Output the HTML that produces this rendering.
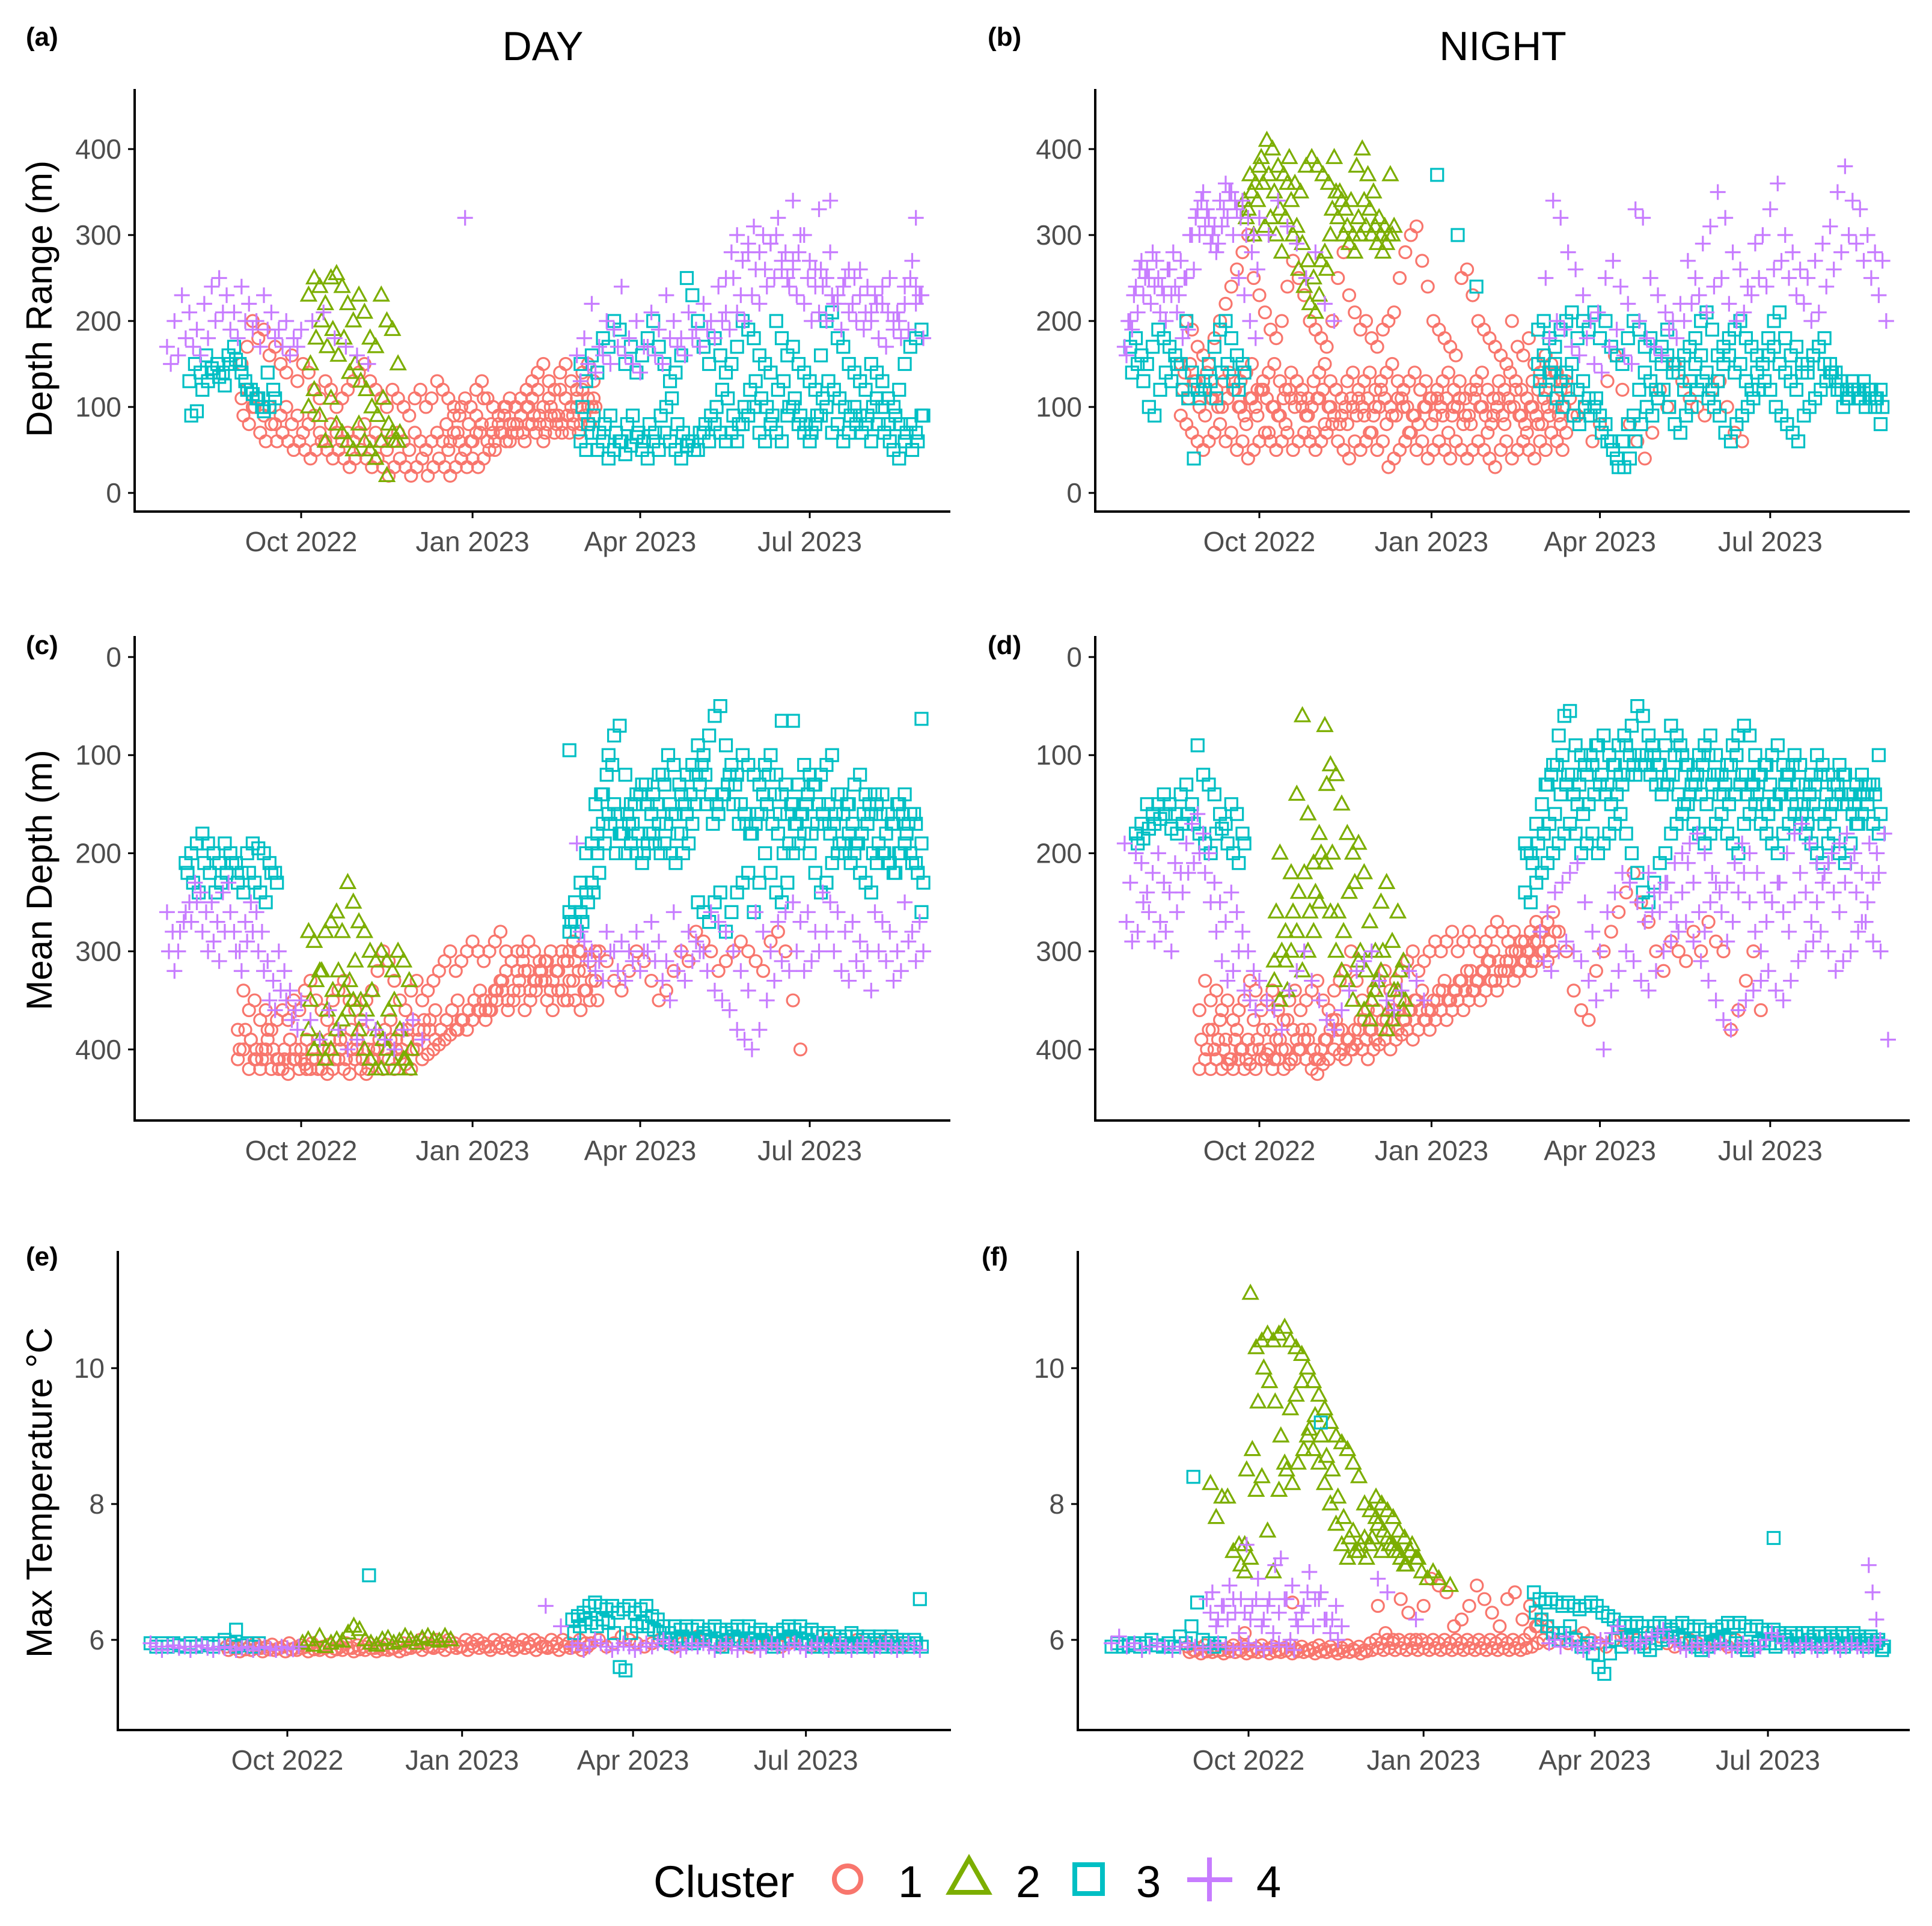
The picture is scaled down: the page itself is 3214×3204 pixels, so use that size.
<!DOCTYPE html>
<html><head><meta charset="utf-8"><style>
html,body{margin:0;padding:0;background:#fff;}
svg{display:block;font-family:"Liberation Sans",Arial,sans-serif;}
.tk{fill:#4d4d4d;font-size:46px;}
.ttl{fill:#000;font-size:60px;}
.pl{fill:#000;font-size:44px;font-weight:bold;}
</style></head><body>
<svg id="chart" width="3214" height="3204" viewBox="0 0 3214 3204" xmlns="http://www.w3.org/2000/svg">
<rect width="3214" height="3204" fill="#fff"/>
<text x="903" y="100" text-anchor="middle" font-size="68">DAY</text>
<text x="2500" y="100" text-anchor="middle" font-size="68">NIGHT</text>
<text class="pl" x="43" y="76">(a)</text>
<text class="pl" x="1643" y="76">(b)</text>
<text class="pl" x="43" y="1088">(c)</text>
<text class="pl" x="1643" y="1088">(d)</text>
<text class="pl" x="43" y="2105">(e)</text>
<text class="pl" x="1633" y="2105">(f)</text>
<text class="ttl" transform="translate(86,497) rotate(-90)" text-anchor="middle">Depth Range (m)</text>
<text class="ttl" transform="translate(86,1464) rotate(-90)" text-anchor="middle">Mean Depth (m)</text>
<text class="ttl" transform="translate(86,2483) rotate(-90)" text-anchor="middle">Max Temperature °C</text>
<g id="marks"></g>
<g id="axes"></g>
<g>
<text x="1087" y="3156" font-size="74">Cluster</text>
<circle cx="1410" cy="3126" r="22" fill="none" stroke="#F8766D" stroke-width="8"/>
<text x="1494" y="3156" font-size="74">1</text>
<polygon points="1612,3092 1644,3148 1580,3148" fill="none" stroke="#7CAE00" stroke-width="8"/>
<text x="1690" y="3156" font-size="74">2</text>
<rect x="1788" y="3102" width="46" height="48" fill="none" stroke="#00BFC4" stroke-width="8"/>
<text x="1890" y="3156" font-size="74">3</text>
<path d="M1975,3127 H2050 M2012,3090 V3163" stroke="#C77CFF" stroke-width="8"/>
<text x="2090" y="3156" font-size="74">4</text>
</g>
</svg>
<script>
// ---- data (day index: 0 = 21 Jul 2022; Oct 1 = 72, Jan 1 = 164, Apr 1 = 254, Jul 1 = 345)
const dateTickDays = [72,164,254,345];
const dateTickLabels = ["Oct 2022","Jan 2023","Apr 2023","Jul 2023"];
const depthTicks = [0,100,200,300,400];
const tempTicks = [6,8,10];

// panel a: day depth range
const A4_s1a=[170,200,230,210,190,220,240,250,230,210,240,220,200,230,210,190,200,180];
const A4_s1b=[150,160,180,170,160,180,200,210,190,180,200,190,170,190,180,170,160,170];
const A4_s2=[190,200,210,180,170,160,150];
const A4_s3a=[160,180,220,170,200,190,240,180,200,170,210,190,230,200,180,210,190,220,200,240,210,250,230,280,260,300,290,320,280,270,300,250,260,240,280,230,250,220,260,240,230,220,250,210,240,270,230];
const A4_s3b=[130,150,140,160,150,170,160,150,140,170,160,150,180,170,160,180,170,190,180,200,190,210,200,230,220,240,250,260,240,230,220,200,210,200,220,190,210,200,190,210,180,170,200,180,190,220,180];
const A4_s3c=[250,280,300,270,290,310,280,260,290,300,270,250,260,280,300,270,240,260,250,230,220,240,260,250,230,210,200,220,240,210,190,200,220,250,240,230];
const A4_outD=[160,336,350,356,402];
const A4_outV=[320,340,330,340,320];
const A1_a=[150,170,200,180,190,160,170,150,140,160,130,150,140,120,110,130,120,100,110,120,130,140,150,130,120,110,100,120,110,100,90,110,120,100,110,130,120,110,100,90,110,100,120,130,110,100,90,100,110,100,110,120,130,140,150,130,120,140,150,130,120,140,150,130];
const A1_b=[110,120,100,110,90,100,80,90,100,80,90,70,80,90,70,60,80,70,60,70,60,70,80,60,70,60,50,60,70,60,50,70,60,50,60,70,60,50,70,60,50,60,70,80,60,70,80,90,80,100,90,100,110,120,100,110,90,120,110,100,110,120,100,110];
const A1_c=[90,80,100,70,60,80,60,70,60,50,60,50,40,50,60,50,40,50,40,30,40,50,40,30,40,30,20,30,40,30,20,30,40,20,30,40,30,20,30,40,30,40,30,40,50,60,70,60,70,80,70,80,90,80,70,90,80,70,90,80,70,90,80,100];
const A1_d=[80,60,90,70,100,50,80,60,90,70,110,60,80,50,90,70,100,60,80,70,90,60,100,80,70,90,60,80,100,70,90,80,110,70,90,100,80,90,110,100];
const A2_a=[230,250,240,220,250,255,240,220,200,230,210,180,170,230,200,190,150];
const A2_b=[150,180,200,170,190,160,180,140,150,130,120,100,90,110,80,60,70];
const A2_c=[100,120,90,60,110,80,70,60,50,80,60,50,40,60,20,70,60];
const A3_s1a=[130,150,140,160,145,150,140,160,170,150,130,120,110,100,140,120];
const A3_s1b=[90,95,120,130,140,135,125,150,155,140,120,115,110,95,100,110];
const A3_s2a=[150,130,160,140,180,170,200,190,150,170,140,160,180,200,170,150,130,140,160,250,230,200,170,150,180,160,140,150,170,200,190,180,160,150,140,200,180,160,170,150,140,130,120,160,200,210,180,170,150,140,130,120,150,140,130,110,100,120,150,170,180,190];
const A3_s2b=[100,80,90,70,80,90,70,60,80,90,70,60,80,70,90,100,110,80,70,60,50,70,80,90,100,120,110,90,80,100,120,130,110,100,90,120,130,100,110,90,80,70,90,110,130,120,110,100,90,80,70,90,100,80,70,60,90,80,70,50,60,90];
const A3_s2c=[60,50,70,50,60,40,50,60,45,55,65,50,40,60,50,70,60,50,40,55,60,50,70,60,80,70,60,70,60,80,90,100,70,60,80,70,60,90,100,80,70,60,80,90,100,70,80,60,70,100,90,80,60,110,100,80,50,40,60,80,70,90];

// panel b: night depth range
const B4_s1a=[170,200,240,270,260,280,250,230,260,240,270,250,300,330,350,320,310,340,360,350,330,340,320,300];
const B4_s1b=[160,190,210,230,250,240,210,200,230,210,180,190,260,300,310,290,280,310,320,300,250,230,200,180];
const B4_s1c=[200,230,260,250,220,270,240,260,280,230,250,300,320,340,330,300,290,330,350,340,320,300,280,260];
const B4_s2=[320,300,340,310,290,250,280,220,200];
const B4_s3a=[250,340,320,280,260,230,200,210,250,270,240,220,330,320,250,230,210,200,220,270,250,290,310,350,320,280,260,240,290,300,330,360,300,280,260,250,270,290,310,350,380,340,330,300,280,270];
const B4_s3b=[180,200,190,170,160,180,150,140,170,190,160,150,200,180,170,160,190,180,200,220,230,210,240,250,220,200,210,230,250,240,260,270,250,230,220,200,210,240,260,280,300,290,270,250,230,200];
const B1_a=[150,200,190,170,160,150,180,200,220,240,260,280,300,250,230,210,190,180,200,240,270,250,230,200,190,180,170,200,250,280,230,210,190,200,180,170,190,200,210,250,280,300,310,270,240,200,190,180,170,160,250,260,230,200,190,180,170,160,150,200,170,160,180,150,140,160,150,140,130];
const B1_b=[120,110,130,100,90,110,120,100,110,120,100,90,110,100,120,110,100,90,110,120,100,110,90,100,110,120,100,90,80,100,110,90,100,110,90,100,110,100,90,110,100,90,80,100,110,90,100,110,90,100,80,90,110,100,90,80,100,90,110,100,90,80,100,90,80,100,110,90,100];
const B1_c=[90,80,70,60,50,60,70,80,60,70,50,60,40,50,60,70,60,50,60,70,50,60,70,60,50,60,70,80,60,50,40,60,50,60,70,50,60,30,40,50,60,70,50,60,40,50,60,50,40,60,50,40,50,60,50,40,30,50,60,40,50,60,50,40,60,50,70,60,50];
const B1_d=[140,150,130,120,140,110,100,130,140,120,130,140,150,120,130,140,150,130,120,140,130,120,110,130,140,150,130,120,110,130,140,120,130,140,120,130,140,150,130,120,130,140,120,130,110,120,130,140,120,130,110,120,130,140,120,110,130,120,140,130,120,110,130,120,110,130,140,120,130];
const B1_e=[100,80,110,90,120,70,100,90,80,110,130,100,90,70,110,80,100,120,90,80,100,110,90,70,100,120,80,90,110,100,70,90,120,100,80,110,90,70,100,110,90,80,120,100,70,90,110,80,100,120,90,70,100,80,110,90,100,80,70,90];
const B1_s2=[110,90,100,60,80,130,160,120,80,60,40,70,120,100,150,130,110,100,90,120,130,100,70,60];
const B2_a=[340,370,360,390,410,400,380,370,390,360,350,380,390,380,370,360,390,350,330,340,380,400,370,350,320,310,370];
const B2_b=[320,350,340,360,370,350,330,320,340,310,290,270,250,230,280,300,350,340,310,300,320,340,330,310,300,290,300];
const B2_c=[330,300,380,310,320,300,280,360,300,260,240,220,210,270,260,330,320,300,290,280,300,310,300,290,280,300,310];
const B3_s1a=[170,180,160,150,170,190,180,170,160,150,200,140,120,130,150,170,190,200,180,160,150];
const B3_s1b=[140,150,130,100,90,120,140,130,150,120,110,40,110,120,130,110,140,150,130,120,140];
const B3_s2a=[190,200,180,170,190,200,210,180,200,190,210,180,200,170,160,150,180,200,190,170,180,160,170,190,150,140,160,170,180,200,210,190,160,170,180,190,200,180,170,160,150,180,200,210,180,160,170,150,140,160,170,180,150,140,130,120,130,120,130,120,110,120];
const B3_s2b=[130,120,140,110,100,120,90,80,100,90,110,70,60,50,30,30,40,60,80,100,90,110,120,100,80,70,90,100,120,130,110,100,90,70,60,80,90,100,110,120,130,120,100,90,80,70,60,90,100,110,120,130,140,120,100,110,120,110,100,120,110,100];
const B3_s2c=[150,160,140,150,130,140,150,120,130,110,100,90,80,60,40,60,80,90,120,140,130,120,150,160,140,150,120,130,150,160,140,120,130,150,160,140,150,130,120,140,150,160,170,150,140,130,120,140,150,160,170,150,140,130,120,110,120,110,120,110,100,80];
const B3_outD=[167,178,188];
const B3_outV=[370,300,240];

// panel c: day mean depth
const C4_s1a=[260,280,300,270,250,230,240,260,250,270,240,230,280,300,270,250,260,280,310,330,300,320,340,360];
const C4_s1b=[300,320,280,260,270,250,280,300,290,310,280,260,300,320,290,280,300,320,350,360,340,350,370,380];
const C4_s2=[350,370,390,360,380,400,390,370,380,390,400,380,370,390];
const C4_s3a=[190,290,300,310,280,300,290,300,280,300,270,290,310,260,300,280,290,300,260,270,280,300,320,340,260,280,300,270,260,250,270,260,280,240,250,260,280,270,290,300,260,270,280,300,250,280,270];
const C4_s3b=[280,310,320,330,300,320,330,310,320,300,310,330,350,320,330,310,300,320,340,350,360,380,390,400,380,350,330,310,320,300,320,310,300,280,300,320,330,310,320,340,300,310,330,320,290,310,300];
const C1_a=[380,340,360,350,370,360,380,370,360,370,350,360,340,330,350,360,370,350,340,330,350,360,370,350,340,320,300,310,330,350,360,340,330,350,340,330,320,310,300,320,310,300,290,300,310,300,290,280,300,310,320,300,290,300,310,330,340,320,300,310,290,300,320,310,300];
const C1_b=[400,380,390,400,410,390,400,410,400,390,410,400,390,410,420,400,390,410,400,390,380,400,410,420,400,390,380,390,400,380,390,400,380,370,380,390,380,370,360,380,370,360,350,360,370,360,350,340,360,350,340,360,350,340,330,350,360,340,350,330,350,360,340,330,350];
const C1_c=[410,400,420,410,420,400,420,410,420,425,410,420,415,420,410,420,425,420,410,420,425,410,420,425,410,400,420,410,420,410,415,420,400,410,405,400,395,390,385,380,370,380,370,360,350,360,340,330,320,310,300,310,320,330,320,310,300,320,340,350,330,320,340,350,330];
const C1_d=[390,410,400,380,400,420,410,390,400,410,420,400,390,410,400,380,390,410,400,390,380,400,410,390,380,370,390,400,380,370,390,380,370,360,380,370,360,350,370,360,350,340,360,350,340,330,350,340,330,320,340,330,320,310,330,320,310,300,310,300];
const C1_s2=[300,310,330,340,320,300,310,330,350,340,320,300,310,280,290,300,320,310,300,290,300,310,320,290,280,300,350,400];
const C2_a=[280,290,320,280,270,260,280,230,250,270,280,300,310,300,310,320,300,310,330];
const C2_b=[350,330,320,360,340,320,340,330,310,350,360,340,380,390,360,350,380,410,400];
const C2_c=[380,400,390,410,400,380,370,360,350,380,400,410,420,420,400,410,420,410,420];
const C3_s1a=[210,200,190,180,190,200,210,190,200,210,220,200,190,195,200,210,220];
const C3_s1b=[220,230,240,210,220,240,230,220,210,230,240,220,230,240,250,220,230];
const C3_s2a=[260,250,230,200,190,180,140,100,80,70,120,150,140,130,150,140,120,130,150,160,140,120,110,90,100,80,60,50,90,110,120,100,110,120,130,110,100,120,140,160,150,130,110,120,130,120,110,100,140,160,150,130,120,140,160,150,140,160,170,150,140,160,170,190];
const C3_s2b=[270,280,270,250,240,220,190,170,200,180,160,170,180,200,180,190,200,170,160,180,200,190,150,130,120,140,150,140,130,150,170,160,180,170,160,150,170,180,200,190,170,160,150,180,170,160,150,170,190,200,210,190,180,170,200,190,200,210,220,200,180,210,220,230];
const C3_s2c=[280,270,260,240,230,200,170,160,150,180,200,190,200,210,190,180,170,190,200,210,180,160,170,250,260,270,250,240,280,260,240,230,220,260,230,200,220,240,250,230,200,190,180,200,220,240,230,210,200,190,180,200,220,230,240,210,200,210,220,200,190,200,210,260];
const C3_s2d=[150,140,120,110,160,180,170,150,140,130,160,150,120,100,110,130,150,140,120,110,150,170,160,140,120,130,150,170,180,160,140,120,140,160,130,150,170,160,140,130,150,170,180,160,140,150,170,190,160,150,140,160,180,170,150,160,170,160];
const C3_outD=[216,330,336,405];
const C3_outV=[95,65,65,63];

// panel d: night mean depth
const D4_s1a=[190,230,200,210,240,220,200,230,240,210,220,190,170,160,180,200,230,250,270,240,260,280,300,320];
const D4_s1b=[270,290,280,250,260,290,270,280,300,260,240,220,210,200,220,250,280,310,330,320,300,340,350,360];
const D4_s2=[330,350,360,380,340,320,300,330,350,370,380,360,340,320,310,300,330,350,360,340,320,330,350];
const D4_s3a=[280,260,240,230,220,210,250,280,300,260,240,220,230,250,270,260,240,230,210,200,190,180,200,220,240,230,210,190,200,220,240,250,230,200,180,170,190,210,220,200,190,180,200,220,190,200,180];
const D4_s3b=[310,320,300,290,300,310,330,350,400,340,320,300,310,330,340,320,300,290,280,270,290,310,330,350,370,380,360,350,340,330,320,340,350,330,310,300,290,280,300,320,310,300,280,270,290,300,390];
const D4_s3c=[220,240,260,230,250,270,240,210,230,260,280,250,230,260,290,270,240,220,250,280,300,270,250,230,260,280,250,220,240,270,250,230,210,240,260,230,210,240,270,250,230,220];
const D1_a=[360,330,350,340,360,350,370,360,350,330,340,360,350,340,360,370,350,340,360,350,340,330,350,360,340,330,320,300,330,350,360,340,330,320,340,330,320,310,300,320,310,300,290,300,290,280,300,290,280,290,300,290,280,270,280,290,280,300,290,280,270,280,270,260];
const D1_b=[390,400,380,390,400,410,390,400,410,400,390,380,400,410,390,400,410,390,380,390,400,410,390,380,370,380,390,400,380,370,380,390,380,370,360,380,370,360,350,360,370,360,350,340,350,340,330,340,320,330,320,310,300,310,320,310,300,290,300,310,290,300,290,280];
const D1_c=[420,410,420,410,420,415,420,410,420,415,420,410,405,420,410,420,415,410,400,410,420,425,415,410,400,405,410,400,395,400,410,400,395,390,400,390,385,380,390,380,370,380,370,360,370,360,350,360,350,340,350,340,330,340,330,320,330,320,310,320,310,300,310,300];
const D1_d=[380,400,370,390,410,380,400,390,370,400,410,380,390,400,370,380,400,390,380,410,400,390,370,380,400,390,380,370,390,380,360,370,380,360,350,370,360,350,340,360,350,340,330,350,340,330,320,340,330,320,310,330,320,310,300,320,310,300,290,280];
const D1_s2=[280,300,340,360,370,320,300,280,260,240,220,250,270,300,320,290,300,310,280,300,270,290,300,380,360,330,300,360];
const D2_a=[310,200,280,220,140,60,160,210,180,70,110,120,150,180,200,190,220,270,300,250,230,290,260,310];
const D2_b=[260,300,340,260,240,220,260,240,200,130,200,260,280,240,230,300,320,350,330,300,360,340,320,350];
const D2_c=[330,350,310,300,280,320,300,280,250,210,260,300,320,330,350,310,360,370,340,320,380,370,340,360];
const D3_s1a=[180,170,150,160,150,140,150,160,140,130,150,90,120,130,140,160,170,150,160,180];
const D3_s1b=[190,185,175,170,165,160,175,180,170,160,170,180,190,200,180,175,190,200,210,190];
const D3_s2a=[190,200,170,150,130,110,80,60,55,90,100,120,110,90,80,100,110,120,90,70,50,60,80,100,110,90,70,80,100,110,120,100,90,80,100,120,110,90,80,70,80,100,120,110,100,90,110,120,100,110,130,120,100,110,120,130,110,120,140,130,120,140,130,100];
const D3_s2b=[200,210,190,180,170,160,140,130,120,150,160,150,140,130,140,150,140,130,120,110,100,110,120,130,140,130,120,140,150,140,130,140,150,130,120,140,150,140,130,120,130,140,150,160,150,140,130,140,150,160,170,150,160,170,160,150,140,150,160,170,140,130,140,160];
const D3_s2c=[240,250,230,220,210,200,190,180,170,180,200,190,180,200,190,180,170,160,180,200,220,240,250,230,210,200,180,170,160,150,170,180,190,180,170,160,180,190,200,170,160,150,170,180,190,200,180,170,160,170,180,190,200,210,190,180,200,210,190,170,160,150,170,180];
const D3_s2d=[130,120,110,100,120,140,130,110,100,90,120,130,110,90,80,100,120,110,100,90,110,130,120,100,90,110,130,120,110,100,120,140,130,110,100,120,140,130,120,110,130,150,140,120,110,130,150,140,130,120,140,150,130,120,140,150,140,130];

// panel e: day max temperature
const E4_s1=[5.95,5.9,5.85,5.9,5.92,5.88,5.9,5.85,5.9,5.92,5.88,5.85,5.9,5.88,5.9,5.85,5.88,5.9,5.85,5.88,5.9,5.87,5.85,5.9,5.88,5.86,5.9];
const E4_s2=[5.9,5.95,5.85,5.9,6.0,5.95,5.9,5.85,5.9,5.95,5.9,5.85,5.9,5.95,5.9,5.95,6.0,5.95,5.9,5.85,5.9,5.95,5.9,5.95,5.9,5.85,5.9,5.95,5.9,5.85,5.9,5.95,5.9,5.85,5.9,5.95,5.9,5.85,5.9,5.95,5.9,5.85,5.9,5.95,5.9,5.85,5.9,5.95,5.9,5.85,5.9,5.95,5.9,5.85,5.9,5.95,5.9,5.85,5.9,5.95,5.9,5.85];
const E4_outD=[208,216];
const E4_outV=[6.5,6.2];
const E1_a=[5.9,5.95,5.88,5.92,5.9,5.95,5.88,5.9,5.93,5.87,5.9,5.95,5.88,5.92,5.9,5.95,5.88,5.9,5.93,5.87,5.9,5.95,5.88,5.92,5.9,5.95,5.88,5.9,5.93,5.87,5.9,5.95,5.9,5.95,6.0,5.95,5.9,6.0,5.95,6.0,5.95,5.9,6.0,5.95,6.0,5.95,5.9,6.0,5.95,6.0,5.95,5.9,6.0,5.95,6.0,5.95,5.9,6.0,5.95,6.0,5.95,5.9,6.0,5.95];
const E1_b=[5.85,5.88,5.83,5.86,5.85,5.88,5.83,5.86,5.85,5.88,5.83,5.86,5.85,5.88,5.83,5.86,5.85,5.88,5.83,5.86,5.85,5.88,5.83,5.86,5.85,5.88,5.83,5.86,5.85,5.88,5.83,5.86,5.88,5.9,5.85,5.9,5.88,5.9,5.85,5.9,5.88,5.9,5.85,5.9,5.88,5.9,5.85,5.9,5.88,5.9,5.85,5.9,5.88,5.9,5.85,5.9,5.88,5.9,5.85,5.9,5.88,5.9,5.85,5.9];
const E1_s2=[5.95,6.0,5.9,5.95,6.05,6.0,5.95,5.9,5.95,6.0,5.95,5.9,5.95,6.0,6.05,6.0,5.95,5.9,5.95,6.0,5.95,5.9,5.95,6.0,5.95,5.9,5.95,6.0,5.95,5.9,5.95,6.0,5.95,5.9,5.95,6.0,5.95,5.9,5.95,6.0,5.95,5.9];
const E2_a=[5.95,6.0,5.92,6.05,5.9,5.95,6.0,5.98,6.1,6.2,6.15,6.0,5.95,5.92,6.0,6.02,5.95,5.98,6.05,6.0,5.95,6.02,6.05,6.0,5.98,6.05,6.0];
const E3_s1=[5.95,5.9,5.95,5.9,5.95,5.92,5.9,5.95,5.9,5.92,5.95,5.9,5.95,6.0,5.95,5.9,5.92,5.95,5.9,5.95];
const E3_s2a=[6.3,6.35,6.4,6.5,6.55,6.5,6.45,6.5,6.4,6.45,6.5,6.4,6.45,6.5,6.35,6.3,6.2,6.1,6.2,6.15,6.2,6.15,6.2,6.1,6.15,6.2,6.15,6.1,6.15,6.2,6.15,6.2,6.1,6.15,6.1,6.05,6.1,6.15,6.2,6.15,6.2,6.1,6.15,6.1,6.05,6.1,6.05,6.0,6.05,6.1,6.05,6.0,6.05,6.0,6.05,6.0,6.05,6.0,6.0,5.95,6.0,6.6];
const E3_s2b=[6.1,6.2,6.3,6.25,6.2,6.3,6.25,6.1,5.6,5.55,6.1,6.2,6.25,6.2,6.15,6.1,6.0,5.95,6.0,6.05,6.0,5.95,6.0,6.05,6.0,5.95,5.9,6.0,6.05,6.0,5.95,6.0,5.95,6.0,5.95,5.9,5.95,6.0,6.05,6.0,5.95,6.0,5.9,5.95,5.9,5.95,5.9,5.95,5.9,5.95,5.9,5.95,5.9,5.95,5.9,5.95,5.9,5.9,5.95,5.9,5.95,5.9];
const E3_outD=[45,115];
const E3_outV=[6.15,6.95];

// panel f: night max temperature
const F2_a=[8.3,7.8,8.1,8.1,7.3,7.4,7.0,11.1,10.3,10.4,10.5,10.4,10.5,10.6,10.4,10.3,10.2,10.0,9.8,9.6,9.4,9.2,9.0,8.9,8.8,8.6,8.4,8.0,7.9,8.1,8.0,7.9,7.8,7.6,7.5,7.3,7.2,7.0,6.9,7.0,6.9,null,6.8];
const F2_b=[null,null,null,null,null,7.1,8.5,8.8,9.5,10.0,9.8,9.5,9.0,8.5,8.3,8.6,8.8,9.1,9.3,9.0,8.7,8.5,8.1,7.8,7.5,7.3,7.4,7.2,7.5,7.7,7.6,7.4,7.3,7.2,7.1,7.4,7.2];
const F2_c=[null,null,null,null,null,null,7.4,7.2,8.2,8.4,7.6,7.0,8.2,8.6,9.4,9.6,9.8,9.0,8.8,8.6,8.3,8.0,7.7,7.4,7.2,7.6,7.3,7.5,7.4,7.8,7.3,7.5,7.4,7.3,7.1];
const F4_s1=[5.95,6.05,5.9,5.95,5.85,5.9,5.95,5.9,5.85,5.9,5.95,5.9,5.85,5.9,5.95,5.9,5.85,5.9,5.95,5.9,5.85,5.9,5.95,5.9,5.85];
const F4_r1=[6.6,6.7,6.3,6.5,6.8,6.4,6.6,7.4,6.5,6.9,6.3,6.6,7.1,7.2,6.6,6.8,6.2,6.5,7.0,6.6,6.7,6.3,6.3,6.0];
const F4_r2=[6.4,6.2,6.5,6.3,6.6,6.1,6.4,6.3,6.6,6.2,6.5,6.1,6.4,6.6,6.0,6.3,6.4,6.7,6.2,6.6,6.3,6.1,6.5,6.2];
const F4_outD=[140,145,160,398,400,402];
const F4_outV=[6.9,6.7,6.3,7.1,6.7,6.3];
const F4_s2=[5.95,6.0,5.9,6.05,5.95,5.9,5.85,5.9,5.95,6.0,5.95,6.1,6.2,6.0,5.95,5.9,5.95,6.0,6.05,6.1,6.15,6.0,5.95,5.9,5.85,5.9,5.95,5.9,5.85,5.9,5.95,5.9,5.85,5.9,5.95,5.9,5.85,5.9,6.0,6.1,6.05,5.95,5.9,5.85,5.9,5.95,5.9,5.85,5.9,5.95,5.9,5.85,5.9,5.95,5.9,5.85,5.9,5.95,6.0];
const F1_a=[5.9,5.85,5.88,5.92,5.86,5.9,5.85,5.88,5.92,5.86,5.9,5.85,5.88,5.92,5.86,5.9,5.85,5.88,5.92,5.86,5.9,5.85,5.88,5.92,5.86,5.9,5.85,5.88,5.92,5.86,5.9,5.85,5.95,6.0,5.95,6.0,5.95,6.0,5.95,6.0,5.95,6.0,5.95,6.0,5.95,6.0,5.95,6.0,5.95,6.0,5.95,6.0,5.95,6.0,5.95,6.0,5.95,6.0,5.95,6.0,6.1,6.2,6.3,6.2];
const F1_b=[5.82,5.84,5.8,5.83,5.82,5.84,5.8,5.83,5.82,5.84,5.8,5.83,5.82,5.84,5.8,5.83,5.82,5.84,5.8,5.83,5.82,5.84,5.8,5.83,5.82,5.84,5.8,5.83,5.82,5.84,5.8,5.83,5.85,5.88,5.85,5.88,5.85,5.88,5.85,5.88,5.85,5.88,5.85,5.88,5.85,5.88,5.85,5.88,5.85,5.88,5.85,5.88,5.85,5.88,5.85,5.88,5.85,5.88,5.85,5.88,5.9,5.95,6.0,5.95];
const F1_r=[6.5,6.1,6.0,6.6,6.4,6.0,6.5,6.9,6.8,6.7,6.2,6.3,6.5,6.8,6.6,6.4,6.2,6.6,6.7,6.3,6.5,6.2];
const F1_s2=[6.1,6.0,5.95,6.05,6.1,6.0,5.95,5.9,6.0,6.05,5.95,6.0,5.95,6.1,6.05,5.95,5.9,5.95,6.0,5.95,5.9,6.0,5.95,5.9,6.0];
const F1_outD=[70,95];
const F1_outV=[6.1,6.55];
const F3_s1=[5.9,5.95,5.9,5.92,5.95,5.9,5.95,6.0,5.92,5.9,5.95,5.9,6.05,5.95,6.2,6.55,6.0,5.95,5.9,5.95];
const F3_s2a=[6.7,6.6,6.55,6.6,6.55,6.5,6.55,6.5,6.45,6.5,6.55,6.5,6.4,6.35,6.3,6.2,6.25,6.2,6.25,6.2,6.1,6.2,6.25,6.2,6.15,6.2,6.25,6.2,6.15,6.2,6.15,6.1,6.15,6.2,6.25,6.2,6.25,6.2,6.15,6.2,6.15,6.1,6.15,6.1,6.05,6.1,6.05,6.1,6.1,6.05,6.1,6.05,6.1,6.05,6.1,6.05,6.1,6.05,6.0,6.05,5.95,5.85];
const F3_s2b=[6.4,6.3,6.2,6.1,6.0,6.1,6.2,6.0,5.9,5.95,5.8,5.6,5.5,5.8,6.0,5.9,6.0,6.05,5.95,5.9,5.85,5.95,6.0,6.05,6.1,6.05,6.0,5.95,5.9,5.85,5.9,5.95,6.0,6.05,6.0,5.95,5.9,5.85,5.9,5.95,6.0,5.95,5.9,5.95,6.0,5.95,5.9,5.95,6.0,5.95,5.9,5.95,6.0,5.95,5.9,5.95,6.0,5.95,5.9,5.95,6.0,5.9];
const F3_outD=[43,110,348];
const F3_outV=[8.4,9.2,7.5];

// ---- layout
const NS='http://www.w3.org/2000/svg';
const COLORS={1:'#F8766D',2:'#7CAE00',3:'#00BFC4',4:'#C77CFF'};
const P={
 a:{xl:224,xr:1581,yt:148,yb:851,xo:501,k:3.099,y0:820,ys:-1.43,base:0,ticks:depthTicks},
 b:{xl:1822,xr:3177,yt:148,yb:851,xo:2095,k:3.113,y0:820,ys:-1.43,base:0,ticks:depthTicks},
 c:{xl:224,xr:1581,yt:1058,yb:1864,xo:501,k:3.099,y0:1093,ys:1.632,base:0,ticks:depthTicks},
 d:{xl:1822,xr:3177,yt:1058,yb:1864,xo:2095,k:3.113,y0:1093,ys:1.632,base:0,ticks:depthTicks},
 e:{xl:196,xr:1582,yt:2081,yb:2878,xo:478,k:3.16,y0:2728,ys:-113,base:6,ticks:tempTicks},
 f:{xl:1793,xr:3177,yt:2081,yb:2878,xo:2077,k:3.165,y0:2728,ys:-113,base:6,ticks:tempTicks}
};
function xS(p,d){return P[p].xo+(d-72)*P[p].k;}
function yS(p,v){return P[p].y0+(v-P[p].base)*P[p].ys;}
const marks=document.getElementById('marks');
const axes=document.getElementById('axes');
function marker(p,c,d,v){
 const x=xS(p,d),y=yS(p,v);let el;
 if(c===1){el=document.createElementNS(NS,'circle');el.setAttribute('cx',x);el.setAttribute('cy',y);el.setAttribute('r',10);}
 else if(c===2){el=document.createElementNS(NS,'polygon');el.setAttribute('points',`${x},${y-13} ${x+12},${y+9} ${x-12},${y+9}`);}
 else if(c===3){el=document.createElementNS(NS,'rect');el.setAttribute('x',x-10);el.setAttribute('y',y-10);el.setAttribute('width',20);el.setAttribute('height',20);}
 else {el=document.createElementNS(NS,'path');el.setAttribute('d',`M${x-13},${y}H${x+13}M${x},${y-13}V${y+13}`);}
 el.setAttribute('fill','none');el.setAttribute('stroke',COLORS[c]);el.setAttribute('stroke-width',3.2);
 
 
 marks.appendChild(el);
}
function seq(p,c,start,step,vals){vals.forEach((v,i)=>{if(v!==null)marker(p,c,start+i*step,v);});}
function pts(p,c,days,vals){days.forEach((d,i)=>marker(p,c,d,vals[i]));}

// panel a
seq('a',1,40,3,A1_a);seq('a',1,40,3,A1_b);seq('a',1,41,3,A1_c);seq('a',1,150,2,A1_d);
seq('a',2,76,3,A2_a);seq('a',2,77,3,A2_b);seq('a',2,76,3,A2_c);
seq('a',3,12,3,A3_s1a);seq('a',3,13,3,A3_s1b);seq('a',3,222,3,A3_s2a);seq('a',3,223,3,A3_s2b);seq('a',3,222,3,A3_s2c);
seq('a',4,0,4,A4_s1a);seq('a',4,2,4,A4_s1b);seq('a',4,72,6,A4_s2);seq('a',4,220,4,A4_s3a);seq('a',4,222,4,A4_s3b);seq('a',4,300,3,A4_s3c);pts('a',4,A4_outD,A4_outV);
// panel b
seq('b',1,30,3,B1_a);seq('b',1,31,3,B1_b);seq('b',1,30,3,B1_c);seq('b',1,32,3,B1_d);seq('b',1,62,3,B1_e);seq('b',1,238,4,B1_s2);
seq('b',2,64,3,B2_a);seq('b',2,65,3,B2_b);seq('b',2,66,3,B2_c);
seq('b',3,3,3,B3_s1a);seq('b',3,4,3,B3_s1b);seq('b',3,221,3,B3_s2a);seq('b',3,222,3,B3_s2b);seq('b',3,221,3,B3_s2c);pts('b',3,B3_outD,B3_outV);
seq('b',4,0,3,B4_s1a);seq('b',4,1,3,B4_s1b);seq('b',4,2,3,B4_s1c);seq('b',4,72,5,B4_s2);seq('b',4,225,4,B4_s3a);seq('b',4,227,4,B4_s3b);
// panel c
seq('c',1,38,3,C1_a);seq('c',1,39,3,C1_b);seq('c',1,38,3,C1_c);seq('c',1,45,3,C1_d);seq('c',1,232,4,C1_s2);
seq('c',2,76,3,C2_a);seq('c',2,77,3,C2_b);seq('c',2,76,3,C2_c);
seq('c',3,10,3,C3_s1a);seq('c',3,11,3,C3_s1b);seq('c',3,216,3,C3_s2a);seq('c',3,217,3,C3_s2b);seq('c',3,216,3,C3_s2c);seq('c',3,230,3,C3_s2d);pts('c',3,C3_outD,C3_outV);
seq('c',4,0,3,C4_s1a);seq('c',4,1,3,C4_s1b);seq('c',4,72,5,C4_s2);seq('c',4,220,4,C4_s3a);seq('c',4,222,4,C4_s3b);
// panel d
seq('d',1,40,3,D1_a);seq('d',1,41,3,D1_b);seq('d',1,40,3,D1_c);seq('d',1,45,3,D1_d);seq('d',1,232,4,D1_s2);
seq('d',2,80,3,D2_a);seq('d',2,81,3,D2_b);seq('d',2,80,3,D2_c);
seq('d',3,6,3,D3_s1a);seq('d',3,7,3,D3_s1b);seq('d',3,214,3,D3_s2a);seq('d',3,215,3,D3_s2b);seq('d',3,214,3,D3_s2c);seq('d',3,225,3,D3_s2d);
seq('d',4,0,3,D4_s1a);seq('d',4,1,3,D4_s1b);seq('d',4,72,4,D4_s2);seq('d',4,222,4,D4_s3a);seq('d',4,224,4,D4_s3b);seq('d',4,280,3,D4_s3c);
// panel e
seq('e',1,40,3,E1_a);seq('e',1,41,3,E1_b);seq('e',1,232,4,E1_s2);
seq('e',2,80,3,E2_a);
seq('e',3,0,3,E3_s1);seq('e',3,222,3,E3_s2a);seq('e',3,223,3,E3_s2b);pts('e',3,E3_outD,E3_outV);
seq('e',4,0,3,E4_s1);seq('e',4,222,3,E4_s2);pts('e',4,E4_outD,E4_outV);
// panel f
seq('f',1,40,3,F1_a);seq('f',1,41,3,F1_b);seq('f',1,140,4,F1_r);seq('f',1,232,4,F1_s2);pts('f',1,F1_outD,F1_outV);
seq('f',2,52,3,F2_a);seq('f',2,53,3,F2_b);seq('f',2,52,3,F2_c);
seq('f',3,0,3,F3_s1);seq('f',3,222,3,F3_s2a);seq('f',3,223,3,F3_s2b);pts('f',3,F3_outD,F3_outV);
seq('f',4,0,4,F4_s1);seq('f',4,50,3,F4_r1);seq('f',4,52,3,F4_r2);seq('f',4,230,3,F4_s2);pts('f',4,F4_outD,F4_outV);

// axes
function line(x1,y1,x2,y2,w,name){const l=document.createElementNS(NS,'line');
 l.setAttribute('x1',x1);l.setAttribute('y1',y1);l.setAttribute('x2',x2);l.setAttribute('y2',y2);
 l.setAttribute('stroke','#000');l.setAttribute('stroke-width',w);
 
 
 axes.appendChild(l);}
function text(x,y,s,anchor,name){const t=document.createElementNS(NS,'text');
 t.setAttribute('x',x);t.setAttribute('y',y);t.setAttribute('text-anchor',anchor);t.setAttribute('class','tk');t.textContent=s;
 
 
 axes.appendChild(t);}
Object.keys(P).forEach(p=>{const q=P[p];
 line(q.xl,q.yt,q.xl,q.yb+2,4,'y-axis-line-'+p);
 line(q.xl-2,q.yb,q.xr,q.yb,4,'x-axis-line-'+p);
 dateTickDays.forEach((d,i)=>{const x=xS(p,d);line(x,q.yb,x,q.yb+11,3,'x-tick-'+p);text(x,q.yb+66,dateTickLabels[i],'middle','x-tick-label-'+p);});
 q.ticks.forEach(v=>{const y=yS(p,v);line(q.xl-11,y,q.xl,y,3,'y-tick-'+p);text(q.xl-22,y+16,String(v),'end','y-tick-label-'+p);});
});
</script>
</body></html>
